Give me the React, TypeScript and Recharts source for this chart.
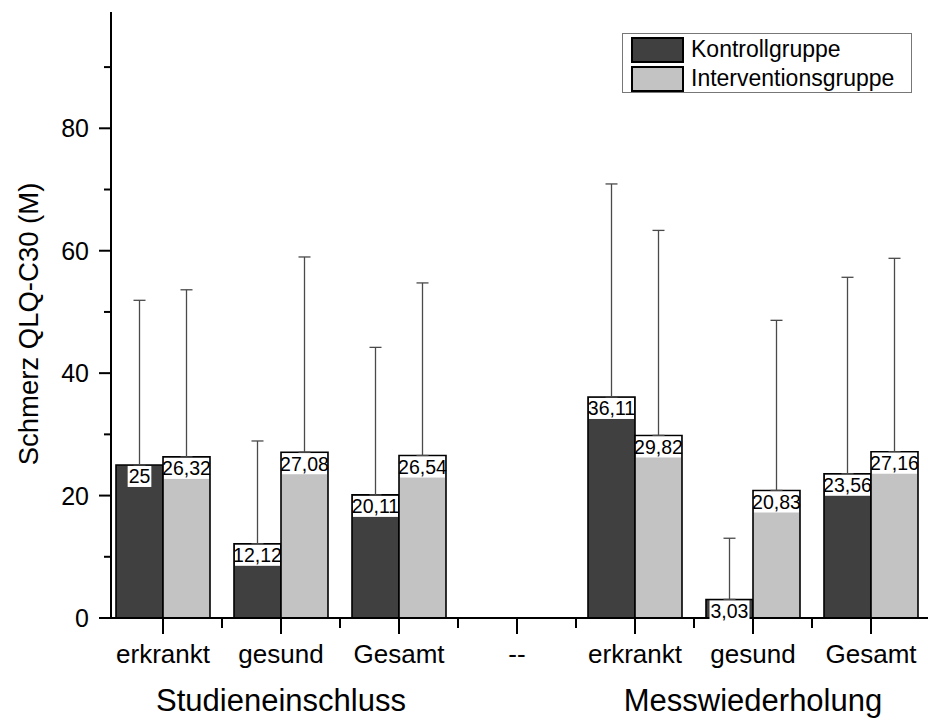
import { Bar, BarChart, ErrorBar, LabelList, Legend, XAxis, YAxis } from 'recharts';

const categories = ['erkrankt', 'gesund', 'Gesamt', '--', 'erkrankt', 'gesund', 'Gesamt'];
const groupLabels = ['', 'Studieneinschluss', '', '', '', 'Messwiederholung', ''];

const kontroll = [25, 12.12, 20.11, null, 36.11, 3.03, 23.56];
const kontrollSd = [26.9, 16.8, 24.1, null, 34.8, 10.0, 32.1];
const intervention = [26.32, 27.08, 26.54, null, 29.82, 20.83, 27.16];
const interventionSd = [27.3, 31.9, 28.2, null, 33.5, 27.8, 31.6];

const seriesNames = ['Kontrollgruppe', 'Interventionsgruppe'];
const yTicks = [0, 10, 20, 30, 40, 50, 60, 70, 80, 90];

const W = 928;
const H = 720;
const PLOT_LEFT = 111;
const PAD_L = -7;
const PAD_R = -2;
const FONT = '"Liberation Sans", Arial, sans-serif';
const DARK = '#404040';
const LIGHT = '#c3c3c3';
const LABEL_SIZE = 19.5;

const bandHalf = (W - PLOT_LEFT - PAD_L - PAD_R) / categories.length / 2;

const data = categories.map((cat, i) => ({
  cat,
  kontroll: kontroll[i],
  kErr: kontrollSd[i] == null ? null : [0, kontrollSd[i]],
  intervention: intervention[i],
  iErr: interventionSd[i] == null ? null : [0, interventionSd[i]],
}));

const fmt = (v: number) =>
  new Intl.NumberFormat('de-DE', { maximumFractionDigits: 2 }).format(v);

function textWidth(s: string, size: number) {
  let w = 0;
  for (const ch of s) w += ch === ',' ? 0.278 : 0.556;
  return w * size;
}

function ValueLabel(props: any) {
  const { value } = props;
  if (value == null) return null;
  const vb = props.viewBox ?? props;
  const x = vb.x ?? props.x;
  const y = vb.y ?? props.y;
  const width = vb.width ?? props.width;
  const s = fmt(Number(value));
  const tw = Math.min(textWidth(s, LABEL_SIZE) + 2, width - 2);
  const cx = x + width / 2;
  return (
    <g>
      <rect x={cx - tw / 2} y={y + 1} width={tw} height={21} fill="#fff" />
      <text x={cx} y={y + 18.5} textAnchor="middle" fontSize={LABEL_SIZE} fontFamily={FONT} fill="#000">
        {s}
      </text>
    </g>
  );
}

function XTick(props: any) {
  const { x, y, payload } = props;
  const i = payload.index;
  return (
    <g>
      <line x1={x} y1={y} x2={x} y2={y + 16} stroke="#000" strokeWidth={2} />
      {i < categories.length - 1 && (
        <line x1={x + bandHalf} y1={y} x2={x + bandHalf} y2={y + 10} stroke="#000" strokeWidth={2} />
      )}
      <text x={x} y={y + 45} textAnchor="middle" fontSize={26} fontFamily={FONT} fill="#000">
        {payload.value}
      </text>
      {groupLabels[i] && (
        <text x={x} y={y + 93} textAnchor="middle" fontSize={31} fontFamily={FONT} fill="#000">
          {groupLabels[i]}
        </text>
      )}
    </g>
  );
}

function YTick(props: any) {
  const { x, y, payload } = props;
  const major = payload.value % 20 === 0;
  return (
    <g>
      <line x1={x - (major ? 12 : 7)} y1={y} x2={x} y2={y} stroke="#000" strokeWidth={2} />
      {major && (
        <text x={x - 22} y={y} dy="0.36em" textAnchor="end" fontSize={25} fontFamily={FONT} fill="#000">
          {payload.value}
        </text>
      )}
    </g>
  );
}

function YLabel(props: any) {
  const vb = props.viewBox ?? {};
  const cx = 28;
  const cy = (vb.y ?? 12) + (vb.height ?? 606) / 2 + 9;
  return (
    <text
      x={cx}
      y={cy}
      transform={`rotate(-90 ${cx} ${cy})`}
      textAnchor="middle"
      dy="0.36em"
      fontSize={27.5}
      fontFamily={FONT}
      fill="#000"
    >
      Schmerz QLQ-C30 (M)
    </text>
  );
}

function LegendBox(props: any) {
  const items = [...(props.payload ?? [])].sort(
    (a: any, b: any) => seriesNames.indexOf(a.value) - seriesNames.indexOf(b.value),
  );
  return (
    <div
      style={{
        boxSizing: 'border-box',
        width: 290,
        height: 60,
        border: '1px solid #777',
        background: '#fff',
        padding: '1px 0 0 8px',
        fontFamily: FONT,
      }}
    >
      {items.map((it: any) => (
        <div key={it.value} style={{ display: 'flex', alignItems: 'center', height: 29 }}>
          <div
            style={{
              boxSizing: 'border-box',
              width: 53,
              height: 26,
              background: it.color,
              border: '2px solid #000',
            }}
          />
          <span style={{ marginLeft: 7, fontSize: 23, lineHeight: 1, color: '#000' }}>{it.value}</span>
        </div>
      ))}
    </div>
  );
}

export default function App() {
  return (
    <div style={{ position: 'absolute', left: 0, top: 0, background: '#fff' }}>
      <BarChart
        width={W}
        height={H}
        data={data}
        margin={{ top: 12, right: 0, bottom: 0, left: 0 }}
        barCategoryGap={12}
        barGap={0}
      >
        <XAxis
          dataKey="cat"
          height={102}
          padding={{ left: PAD_L, right: PAD_R }}
          axisLine={{ stroke: '#000', strokeWidth: 2 }}
          tickLine={false}
          tickSize={0}
          tickMargin={0}
          interval={0}
          tick={<XTick />}
        />
        <YAxis
          width={PLOT_LEFT}
          domain={[0, 99]}
          ticks={yTicks}
          allowDataOverflow
          axisLine={{ stroke: '#000', strokeWidth: 2 }}
          tickLine={false}
          tickSize={0}
          tickMargin={0}
          interval={0}
          tick={<YTick />}
          label={<YLabel />}
        />
        <Legend
          layout="vertical"
          align="center"
          verticalAlign="middle"
          content={<LegendBox />}
          wrapperStyle={{ position: 'absolute', left: 622, top: 33, width: 290, height: 60 }}
        />
        <Bar
          dataKey="kontroll"
          name={seriesNames[0]}
          fill={DARK}
          stroke="#000"
          strokeWidth={1.6}
          isAnimationActive={false}
        >
          <ErrorBar dataKey="kErr" width={6} stroke="#4a4a4a" strokeWidth={1.3} isAnimationActive={false} />
          <LabelList dataKey="kontroll" content={<ValueLabel />} />
        </Bar>
        <Bar
          dataKey="intervention"
          name={seriesNames[1]}
          fill={LIGHT}
          stroke="#000"
          strokeWidth={1.6}
          isAnimationActive={false}
        >
          <ErrorBar dataKey="iErr" width={6} stroke="#4a4a4a" strokeWidth={1.3} isAnimationActive={false} />
          <LabelList dataKey="intervention" content={<ValueLabel />} />
        </Bar>
      </BarChart>
    </div>
  );
}
